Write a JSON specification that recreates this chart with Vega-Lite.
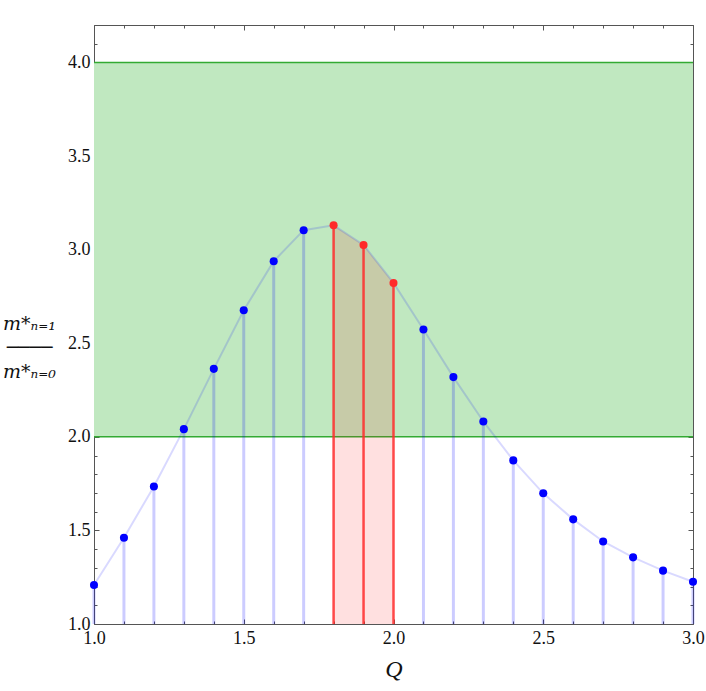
{
  "$schema": "https://vega.github.io/schema/vega-lite/v6.json",
  "width": 599,
  "height": 599,
  "autosize": {"type": "none"},
  "padding": {"left": 94, "top": 25, "right": 13, "bottom": 67},
  "background": "white",
  "config": {
    "view": {"stroke": null},
    "axis": {
      "labelFont": "Liberation Serif",
      "labelFontSize": 18,
      "labelColor": "#111",
      "titleFont": "Liberation Serif",
      "domainColor": "#555",
      "tickColor": "#555",
      "grid": false
    }
  },
  "datasets": {
    "pts": [
      {"Q": 1.0, "r": 1.208, "hl": false},
      {"Q": 1.1, "r": 1.461, "hl": false},
      {"Q": 1.2, "r": 1.735, "hl": false},
      {"Q": 1.3, "r": 2.041, "hl": false},
      {"Q": 1.4, "r": 2.363, "hl": false},
      {"Q": 1.5, "r": 2.676, "hl": false},
      {"Q": 1.6, "r": 2.938, "hl": false},
      {"Q": 1.7, "r": 3.104, "hl": false},
      {"Q": 1.8, "r": 3.130, "hl": true},
      {"Q": 1.9, "r": 3.025, "hl": true},
      {"Q": 2.0, "r": 2.822, "hl": true},
      {"Q": 2.1, "r": 2.573, "hl": false},
      {"Q": 2.2, "r": 2.319, "hl": false},
      {"Q": 2.3, "r": 2.082, "hl": false},
      {"Q": 2.4, "r": 1.874, "hl": false},
      {"Q": 2.5, "r": 1.698, "hl": false},
      {"Q": 2.6, "r": 1.559, "hl": false},
      {"Q": 2.7, "r": 1.441, "hl": false},
      {"Q": 2.8, "r": 1.356, "hl": false},
      {"Q": 2.9, "r": 1.285, "hl": false},
      {"Q": 3.0, "r": 1.226, "hl": false}
    ],
    "band": [{"lo": 2.0, "hi": 4.0}],
    "bandlines": [{"y": 2.0}, {"y": 4.0}]
  },
  "resolve": {"axis": {"x": "independent", "y": "independent"}},
  "layer": [
    {
      "data": {"name": "band"},
      "mark": {"type": "rect", "color": "#c0e8c0"},
      "encoding": {
        "y": {"field": "lo", "type": "quantitative", "scale": {"domain": [1.0, 4.2], "nice": false, "zero": false}, "axis": null},
        "y2": {"field": "hi"}
      }
    },
    {
      "data": {"name": "bandlines"},
      "mark": {"type": "rule", "color": "#33aa33", "strokeWidth": 1.5},
      "encoding": {
        "y": {"field": "y", "type": "quantitative", "axis": null}
      }
    },
    {
      "data": {"name": "pts"},
      "transform": [{"filter": "datum.hl"}],
      "mark": {"type": "area", "color": "#ff0000", "opacity": 0.12},
      "encoding": {
        "x": {"field": "Q", "type": "quantitative", "axis": null},
        "y": {"field": "r", "type": "quantitative", "axis": null},
        "y2": {"datum": 1.0}
      }
    },
    {
      "data": {"name": "pts"},
      "mark": {"type": "line", "color": "#0000ff", "opacity": 0.15, "strokeWidth": 2},
      "encoding": {
        "x": {"field": "Q", "type": "quantitative", "axis": null},
        "y": {"field": "r", "type": "quantitative", "axis": null}
      }
    },
    {
      "data": {"name": "pts"},
      "mark": {"type": "rule"},
      "encoding": {
        "x": {
          "field": "Q", "type": "quantitative",
          "scale": {"domain": [1.0, 3.0], "nice": false, "zero": false},
          "axis": {
            "orient": "bottom",
            "title": "Q",
            "titleFontStyle": "italic",
            "titleFontWeight": "normal",
            "titleFontSize": 24,
            "titleColor": "#111",
            "titlePadding": 8,
            "values": [1.0,1.1,1.2,1.3,1.4,1.5,1.6,1.7,1.8,1.9,2.0,2.1,2.2,2.3,2.4,2.5,2.6,2.7,2.8,2.9,3.0],
            "labelExpr": "abs(datum.value*2 - round(datum.value*2)) < 0.001 ? format(datum.value, '.1f') : ''",
            "tickSize": {"condition": {"test": "abs(datum.value*2 - round(datum.value*2)) < 0.001", "value": -5}, "value": -3},
            "labelPadding": 10,
            "labelFlush": false,
            "labelOverlap": false
          }
        },
        "y": {
          "field": "r", "type": "quantitative",
          "axis": {
            "orient": "left",
            "values": [1.0,1.1,1.2,1.3,1.4,1.5,1.6,1.7,1.8,1.9,2.0,2.1,2.2,2.3,2.4,2.5,2.6,2.7,2.8,2.9,3.0,3.1,3.2,3.3,3.4,3.5,3.6,3.7,3.8,3.9,4.0,4.1,4.2],
            "labelExpr": "abs(datum.value*2 - round(datum.value*2)) < 0.001 ? format(datum.value, '.1f') : ''",
            "tickSize": {"condition": {"test": "abs(datum.value*2 - round(datum.value*2)) < 0.001", "value": -5}, "value": -3},
            "labelPadding": 9,
            "labelFlush": false,
            "labelOverlap": false,
            "title": ["m*ₙ₌₁", "────", "m*ₙ₌₀"],
            "titleAngle": 0,
            "titleFont": "DejaVu Serif",
            "titleFontSize": 19,
            "titleFontStyle": "italic",
            "titleFontWeight": "normal",
            "titleColor": "#111",
            "titleAlign": "center",
            "titleBaseline": "middle",
            "titleLineHeight": 24,
            "titleX": -65,
            "titleY": 298
          }
        },
        "y2": {"datum": 1.0},
        "color": {"condition": {"test": "datum.hl", "value": "#ff2a2a"}, "value": "#0000ff"},
        "opacity": {"condition": {"test": "datum.hl", "value": 0.85}, "value": 0.2},
        "strokeWidth": {"condition": {"test": "datum.hl", "value": 2.5}, "value": 3}
      }
    },
    {
      "data": {"name": "pts"},
      "mark": {"type": "circle", "size": 65, "opacity": 1},
      "encoding": {
        "x": {
          "field": "Q", "type": "quantitative",
          "axis": {
            "orient": "top", "title": null, "labels": false,
            "values": [1.0,1.1,1.2,1.3,1.4,1.5,1.6,1.7,1.8,1.9,2.0,2.1,2.2,2.3,2.4,2.5,2.6,2.7,2.8,2.9,3.0],
            "tickSize": {"condition": {"test": "abs(datum.value*2 - round(datum.value*2)) < 0.001", "value": -5}, "value": -3}
          }
        },
        "y": {
          "field": "r", "type": "quantitative",
          "axis": {
            "orient": "right", "title": null, "labels": false,
            "values": [1.0,1.1,1.2,1.3,1.4,1.5,1.6,1.7,1.8,1.9,2.0,2.1,2.2,2.3,2.4,2.5,2.6,2.7,2.8,2.9,3.0,3.1,3.2,3.3,3.4,3.5,3.6,3.7,3.8,3.9,4.0,4.1,4.2],
            "tickSize": {"condition": {"test": "abs(datum.value*2 - round(datum.value*2)) < 0.001", "value": -5}, "value": -3}
          }
        },
        "color": {"condition": {"test": "datum.hl", "value": "#ff2a2a"}, "value": "#0000ff"}
      }
    }
  ]
}
